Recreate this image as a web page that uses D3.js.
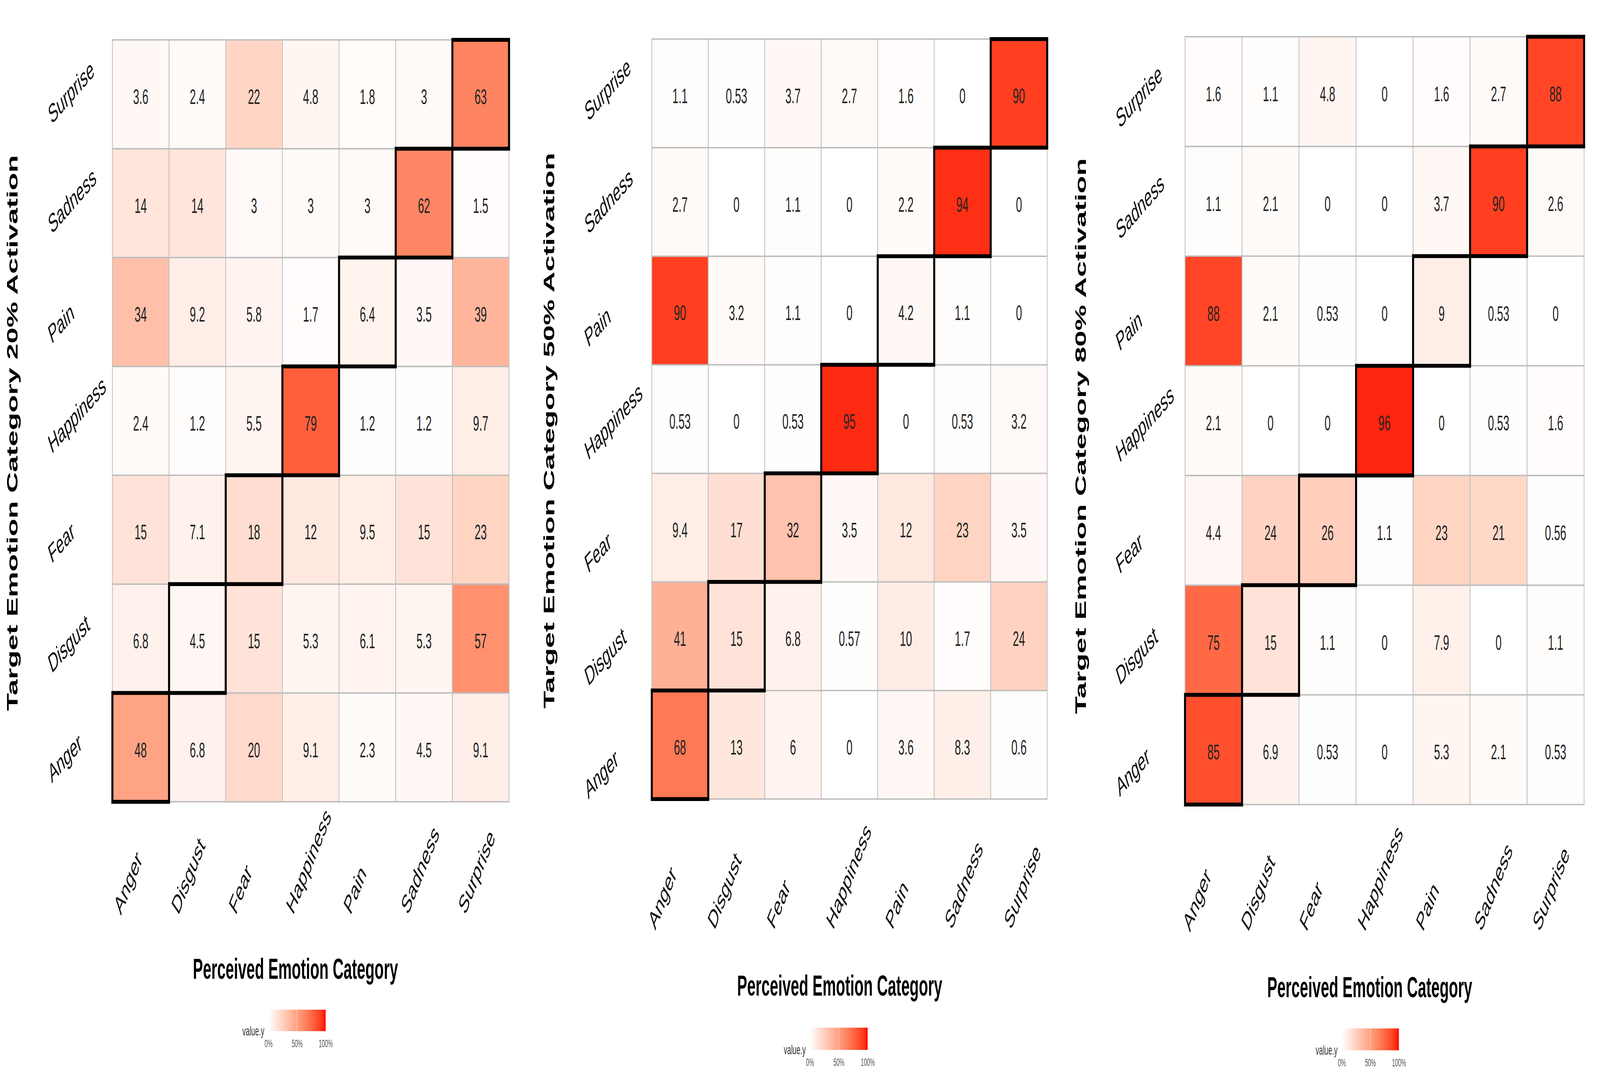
<!DOCTYPE html>
<html>
<head>
<meta charset="utf-8">
<script src="https://cdn.jsdelivr.net/npm/d3@7"></script>
<style>
  html, body { margin: 0; padding: 0; background: #ffffff; overflow: hidden; }
  svg { display: block; }
  text { font-family: "Liberation Sans", Arial, Helvetica, sans-serif; }
</style>
</head>
<body>
<script>
// ---------------- DATA ----------------
const categories = ["Anger", "Disgust", "Fear", "Happiness", "Pain", "Sadness", "Surprise"];

const yTitles = [
  "Target Emotion Category 20% Activation",
  "Target Emotion Category 50% Activation",
  "Target Emotion Category 80% Activation"
];
const xTitle = "Perceived Emotion Category";
const legendTitle = "value.y";
const legendTicks = [0, 50, 100];

// rows = target category (Anger..Surprise), columns = perceived category (Anger..Surprise)
const values20 = [
  [48, 6.8, 20, 9.1, 2.3, 4.5, 9.1],   // Anger
  [6.8, 4.5, 15, 5.3, 6.1, 5.3, 57],   // Disgust
  [15, 7.1, 18, 12, 9.5, 15, 23],      // Fear
  [2.4, 1.2, 5.5, 79, 1.2, 1.2, 9.7],  // Happiness
  [34, 9.2, 5.8, 1.7, 6.4, 3.5, 39],   // Pain
  [14, 14, 3, 3, 3, 62, 1.5],          // Sadness
  [3.6, 2.4, 22, 4.8, 1.8, 3, 63]      // Surprise
];
const values50 = [
  [68, 13, 6, 0, 3.6, 8.3, 0.6],
  [41, 15, 6.8, 0.57, 10, 1.7, 24],
  [9.4, 17, 32, 3.5, 12, 23, 3.5],
  [0.53, 0, 0.53, 95, 0, 0.53, 3.2],
  [90, 3.2, 1.1, 0, 4.2, 1.1, 0],
  [2.7, 0, 1.1, 0, 2.2, 94, 0],
  [1.1, 0.53, 3.7, 2.7, 1.6, 0, 90]
];
const values80 = [
  [85, 6.9, 0.53, 0, 5.3, 2.1, 0.53],
  [75, 15, 1.1, 0, 7.9, 0, 1.1],
  [4.4, 24, 26, 1.1, 23, 21, 0.56],
  [2.1, 0, 0, 96, 0, 0.53, 1.6],
  [88, 2.1, 0.53, 0, 9, 0.53, 0],
  [1.1, 2.1, 0, 0, 3.7, 90, 2.6],
  [1.6, 1.1, 4.8, 0, 1.6, 2.7, 88]
];
const panelValues = [values20, values50, values80];

// ---------------- LAYOUT (positions only) ----------------
const W = 7858, H = 2787;
const layouts = [
  { gl: 552, gr: 2500, gt: 102, gb: 2052,
    ylabX: 254, ylabY: [2005, 319], xlabX: [594, 2285], xlabY: 2344,
    yTitleX: 86, yTitleY: 1108, xTitleX: 1451, xTitleY: 2505,
    legX: [1319, 1600], legTop: 2584, legH: 55 },
  { gl: 3201, gr: 5143, gt: 100, gb: 2045,
    ylabX: 2889, ylabY: [2046, 312], xlabX: [3218, 4965], xlabY: 2382,
    yTitleX: 2723, yTitleY: 1102, xTitleX: 4124, xTitleY: 2548,
    legX: [3978, 4262], legTop: 2630, legH: 57 },
  { gl: 5820, gr: 7780, gt: 94, gb: 2059,
    ylabX: 5499, ylabY: [2040, 330], xlabX: [5844, 7561], xlabY: 2387,
    yTitleX: 5334, yTitleY: 1116, xTitleX: 6727, xTitleY: 2552,
    legX: [6590, 6871], legTop: 2632, legH: 56 }
];

const color = d3.scaleLinear().domain([0, 100]).range(["#ffffff", "#ff0000"]).interpolate(d3.interpolateLab);

// fill the actual window with the full 7858x2787 drawing
const vw = window.innerWidth || W, vh = window.innerHeight || H;

const svg = d3.select("body").append("svg")
  .attr("width", vw).attr("height", vh)
  .attr("viewBox", `0 0 ${W} ${H}`)
  .attr("preserveAspectRatio", "none");
svg.append("rect").attr("width", W).attr("height", H).attr("fill", "#ffffff");

const defs = svg.append("defs");
const grad = defs.append("linearGradient").attr("id", "legGrad")
  .attr("x1", "0%").attr("x2", "100%").attr("y1", "0%").attr("y2", "0%");
d3.range(0, 101, 5).forEach(v => {
  grad.append("stop").attr("offset", v + "%").attr("stop-color", color(v));
});

layouts.forEach((L, pi) => {
  const vals = panelValues[pi];
  const g = svg.append("g");

  const x = d3.scaleBand().domain(categories).range([L.gl, L.gr]).padding(0);
  const y = d3.scaleBand().domain(categories).range([L.gb, L.gt]).padding(0);

  const cells = [];
  vals.forEach((row, ri) => row.forEach((v, ci) => {
    cells.push({ target: categories[ri], perceived: categories[ci], value: v });
  }));

  // tiles
  g.append("g").selectAll("rect").data(cells).join("rect")
    .attr("x", d => x(d.perceived))
    .attr("y", d => y(d.target))
    .attr("width", x.bandwidth())
    .attr("height", y.bandwidth())
    .attr("fill", d => color(d.value))
    .attr("stroke", "#bdbdbd")
    .attr("stroke-width", 3.5);

  // cell values
  g.append("g").selectAll("text").data(cells).join("text")
    .attr("x", d => x(d.perceived) + x.bandwidth() / 2)
    .attr("y", d => y(d.target) + y.bandwidth() / 2 + 6)
    .attr("text-anchor", "middle")
    .attr("dominant-baseline", "central")
    .attr("font-size", 54)
    .attr("fill", "#222222")
    .text(d => String(d.value));

  // diagonal (correct category) outlines
  g.append("g").selectAll("rect").data(categories).join("rect")
    .attr("x", d => x(d))
    .attr("y", d => y(d))
    .attr("width", x.bandwidth())
    .attr("height", y.bandwidth())
    .attr("fill", "none")
    .attr("stroke", "#000000")
    .attr("stroke-width", 10);

  // y tick labels
  const yl = d3.scalePoint().domain(categories).range(L.ylabY);
  g.append("g").selectAll("text").data(categories).join("text")
    .attr("transform", d => `translate(${L.ylabX},${yl(d)}) rotate(-31)`)
    .attr("text-anchor", "start")
    .attr("font-size", 67)
    .attr("fill", "#111111")
    .text(d => d);

  // x tick labels
  const xl = d3.scalePoint().domain(categories).range(L.xlabX);
  g.append("g").selectAll("text").data(categories).join("text")
    .attr("transform", d => `translate(${xl(d)},${L.xlabY}) rotate(-53)`)
    .attr("text-anchor", "start")
    .attr("font-size", 67)
    .attr("fill", "#111111")
    .text(d => d);

  // axis titles
  g.append("text")
    .attr("transform", `translate(${L.yTitleX},${L.yTitleY}) rotate(-90)`)
    .attr("text-anchor", "middle")
    .attr("font-size", 74)
    .attr("font-weight", "bold")
    .attr("fill", "#000000")
    .text(yTitles[pi]);

  g.append("text")
    .attr("x", L.xTitleX).attr("y", L.xTitleY)
    .attr("text-anchor", "middle")
    .attr("font-size", 74)
    .attr("font-weight", "bold")
    .attr("fill", "#000000")
    .text(xTitle);

  // colour legend
  const lx = d3.scaleLinear().domain([0, 100]).range(L.legX);
  const lg = g.append("g");
  lg.append("rect")
    .attr("x", lx(0)).attr("y", L.legTop)
    .attr("width", lx(100) - lx(0)).attr("height", L.legH)
    .attr("fill", "url(#legGrad)");
  lg.selectAll("line").data(legendTicks).join("line")
    .attr("x1", d => lx(d)).attr("x2", d => lx(d))
    .attr("y1", L.legTop).attr("y2", L.legTop + L.legH)
    .attr("stroke", "#ffffff").attr("stroke-width", 2).attr("stroke-opacity", 0.7);
  lg.selectAll("text.tick").data(legendTicks).join("text")
    .attr("class", "tick")
    .attr("x", d => lx(d))
    .attr("y", L.legTop + L.legH + 41)
    .attr("text-anchor", "middle")
    .attr("font-size", 27)
    .attr("fill", "#555555")
    .text(d => d + "%");
  lg.append("text")
    .attr("x", lx(0) - 21)
    .attr("y", L.legTop + L.legH + 11)
    .attr("text-anchor", "end")
    .attr("font-size", 34)
    .attr("fill", "#333333")
    .text(legendTitle);
});
</script>
</body>
</html>
